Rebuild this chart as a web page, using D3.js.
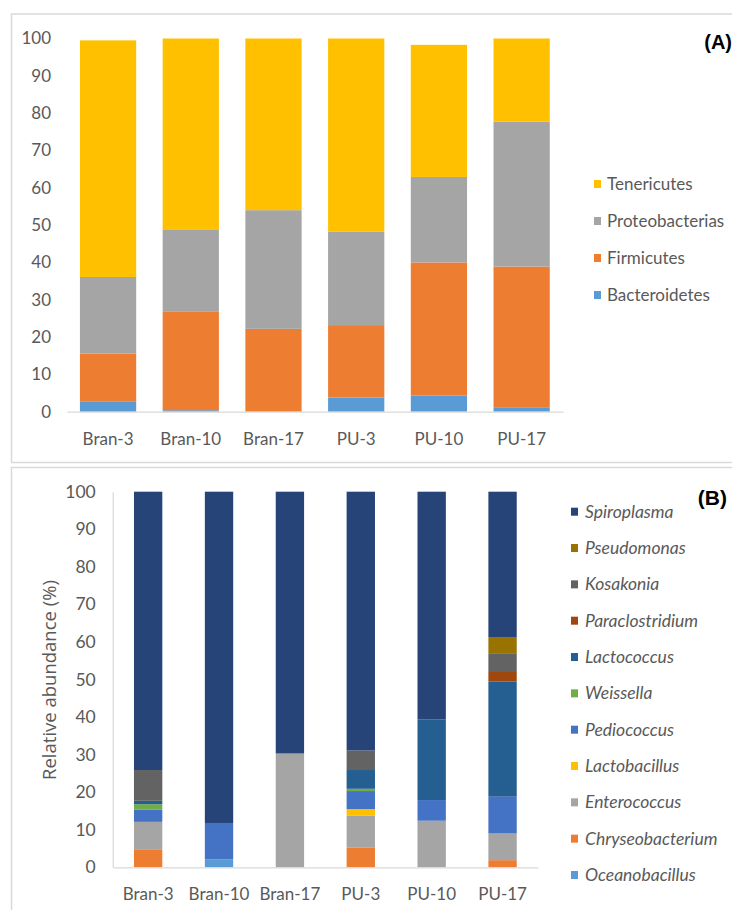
<!DOCTYPE html>
<html>
<head>
<meta charset="utf-8">
<script src="https://cdn.jsdelivr.net/npm/d3@7"></script>
<style>
  html, body { margin: 0; padding: 0; background: #fff; }
  svg { display: block; }
</style>
</head>
<body>
<svg id="chart" width="732" height="910"></svg>
<script>
// Sample groups (x-axis categories)
const samples = ["Bran-3", "Bran-10", "Bran-17", "PU-3", "PU-10", "PU-17"];
const yTicks = [0, 10, 20, 30, 40, 50, 60, 70, 80, 90, 100];

// (A) Phylum-level relative abundance (%)
const phyla = ["Bacteroidetes", "Firmicutes", "Proteobacterias", "Tenericutes"];
const bacteroidetes   = [2.8, 0.4, 0.0, 3.8, 4.3, 1.2];
const firmicutes      = [12.8, 26.5, 22.2, 19.4, 35.7, 37.7];
const proteobacterias = [20.5, 21.8, 31.8, 25.0, 22.9, 38.8];
const tenericutes     = [63.4, 51.3, 46.0, 51.8, 35.4, 22.3];
const phylumColors = ["#5B9BD5", "#ED7D31", "#A5A5A5", "#FFC000"];

// (B) Genus-level relative abundance (%), stacked bottom to top
const genera = ["Oceanobacillus", "Chryseobacterium", "Enterococcus", "Lactobacillus",
  "Pediococcus", "Weissella", "Lactococcus", "Paraclostridium", "Kosakonia",
  "Pseudomonas", "Spiroplasma"];
const oceanobacillus   = [0.0, 2.1, 0.0, 0.0, 0.0, 0.0];
const chryseobacterium = [4.8, 0.0, 0.0, 5.2, 0.0, 1.9];
const enterococcus     = [7.3, 0.0, 30.3, 8.5, 12.4, 7.1];
const lactobacillus    = [0.0, 0.0, 0.0, 1.8, 0.0, 0.0];
const pediococcus      = [3.3, 9.7, 0.0, 4.8, 5.5, 9.8];
const weissella        = [1.4, 0.0, 0.0, 0.6, 0.0, 0.0];
const lactococcus      = [0.9, 0.0, 0.0, 5.0, 21.5, 30.7];
const paraclostridium  = [0.0, 0.0, 0.0, 0.0, 0.0, 2.5];
const kosakonia        = [8.2, 0.0, 0.0, 5.2, 0.0, 5.0];
const pseudomonas      = [0.0, 0.0, 0.0, 0.0, 0.0, 4.3];
const spiroplasma      = [74.1, 88.2, 69.7, 68.9, 60.6, 38.7];
const genusColors = ["#5B9BD5", "#ED7D31", "#A5A5A5", "#FFC000", "#4472C4", "#70AD47",
  "#255E91", "#9E480E", "#636363", "#997300", "#264478"];

const phylumSeries = [bacteroidetes, firmicutes, proteobacterias, tenericutes];
const genusSeries = [oceanobacillus, chryseobacterium, enterococcus, lactobacillus,
  pediococcus, weissella, lactococcus, paraclostridium, kosakonia, pseudomonas, spiroplasma];

function rows(keys, series) {
  return samples.map((s, i) => {
    const r = { sample: s };
    keys.forEach((k, j) => { r[k] = series[j][i]; });
    return r;
  });
}

const svg = d3.select("#chart");
const frame = "#d9d9d9";
const textGray = "#595959";
const bodyFont = "Lato, 'Liberation Sans', sans-serif";

function styleLabels(sel, size) {
  sel.selectAll("text").attr("font-size", size).attr("fill", textGray)
    .attr("font-family", bodyFont);
}

// Panel frames
svg.append("rect").attr("x", 11.5).attr("y", 14).attr("width", 740).attr("height", 448.5)
  .attr("fill", "none").attr("stroke", frame).attr("stroke-width", 1.5);
svg.append("rect").attr("x", 11.5).attr("y", 467.5).attr("width", 740).attr("height", 460)
  .attr("fill", "none").attr("stroke", frame).attr("stroke-width", 1.5);

// ---------- Panel A ----------
{
  const x = d3.scaleBand().domain(samples).range([66.7, 563]).paddingInner(0.32).paddingOuter(0.16);
  const y = d3.scaleLinear().domain([0, 100]).range([411.7, 38.5]);
  const stack = d3.stack().keys(phyla)(rows(phyla, phylumSeries));
  const color = d3.scaleOrdinal().domain(phyla).range(phylumColors);

  const g = svg.append("g");
  g.selectAll("g.layer").data(stack).join("g").attr("class", "layer")
    .attr("fill", d => color(d.key))
    .selectAll("rect").data(d => d).join("rect")
    .attr("x", d => x(d.data.sample))
    .attr("width", x.bandwidth())
    .attr("y", d => y(d[1]))
    .attr("height", d => y(d[0]) - y(d[1]));

  // y axis labels (no axis line)
  const ya = g.append("g").attr("transform", "translate(51,0)")
    .call(d3.axisLeft(y).tickValues(yTicks).tickSize(0).tickPadding(0));
  ya.select(".domain").remove();
  styleLabels(ya, 17);

  // x axis
  const xa = g.append("g").attr("transform", "translate(0,411.7)")
    .call(d3.axisBottom(x).tickSize(0).tickPadding(21));
  xa.select(".domain").attr("stroke", frame).attr("stroke-width", 1.2);
  styleLabels(xa, 17);

  // legend (top entry = last stacked series)
  const legY = d3.scalePoint().domain(phyla.slice().reverse()).range([184, 295]);
  const leg = g.append("g");
  phyla.forEach(p => {
    leg.append("rect").attr("x", 594).attr("y", legY(p) - 4).attr("width", 7).attr("height", 8)
      .attr("fill", color(p));
    leg.append("text").attr("x", 607).attr("y", legY(p)).attr("dy", "0.35em")
      .attr("font-family", bodyFont).attr("fill", textGray)
      .attr("font-size", 17).text(p);
  });

  svg.append("text").attr("x", 732).attr("y", 42).attr("dy", "0.35em").attr("text-anchor", "end")
    .attr("font-family", "'Liberation Sans', Arial, sans-serif").attr("font-weight", "bold")
    .attr("font-size", 20).attr("fill", "#000").text("(A)");
}

// ---------- Panel B ----------
{
  const x = d3.scaleBand().domain(samples).range([112.7, 538]).paddingInner(0.6).paddingOuter(0.3);
  const y = d3.scaleLinear().domain([0, 100]).range([867.3, 491.7]);
  const stack = d3.stack().keys(genera)(rows(genera, genusSeries));
  const color = d3.scaleOrdinal().domain(genera).range(genusColors);

  const g = svg.append("g");
  g.selectAll("g.layer").data(stack).join("g").attr("class", "layer")
    .attr("fill", d => color(d.key))
    .selectAll("rect").data(d => d.filter(v => v[1] - v[0] > 0)).join("rect")
    .attr("x", d => x(d.data.sample))
    .attr("width", x.bandwidth())
    .attr("y", d => y(d[1]))
    .attr("height", d => y(d[0]) - y(d[1]));

  // y axis with light line
  const ya = g.append("g").attr("transform", "translate(112.7,0)")
    .call(d3.axisLeft(y).tickValues(yTicks).tickSize(0).tickPadding(17));
  ya.select(".domain").attr("stroke", frame).attr("stroke-width", 1.2);
  styleLabels(ya, 17.5);

  // x axis
  const xa = g.append("g").attr("transform", "translate(0,867.3)")
    .call(d3.axisBottom(x).tickSize(0).tickPadding(21));
  xa.select(".domain").attr("stroke", frame).attr("stroke-width", 1.2);
  styleLabels(xa, 17);

  // y axis title, rotated; baseline sits just left of the tick labels
  g.append("text").attr("transform", "rotate(-90)")
    .attr("x", -680).attr("y", 56)
    .attr("text-anchor", "middle")
    .attr("font-family", "'Open Sans', sans-serif").attr("font-size", 18.5)
    .attr("fill", textGray)
    .text("Relative abundance (%)");

  // legend (top entry = last stacked series)
  const legY = d3.scalePoint().domain(genera.slice().reverse()).range([511.7, 875]);
  const leg = g.append("g");
  genera.forEach(s => {
    leg.append("rect").attr("x", 571).attr("y", legY(s) - 4).attr("width", 7).attr("height", 8)
      .attr("fill", color(s));
    leg.append("text").attr("x", 585).attr("y", legY(s)).attr("dy", "0.35em")
      .attr("font-family", bodyFont).attr("fill", textGray)
      .attr("font-size", 17.5).attr("font-style", "italic").text(s);
  });

  svg.append("text").attr("x", 727).attr("y", 498).attr("dy", "0.35em").attr("text-anchor", "end")
    .attr("font-family", "'Liberation Sans', Arial, sans-serif").attr("font-weight", "bold")
    .attr("font-size", 21).attr("fill", "#000").text("(B)");
}
</script>
</body>
</html>
